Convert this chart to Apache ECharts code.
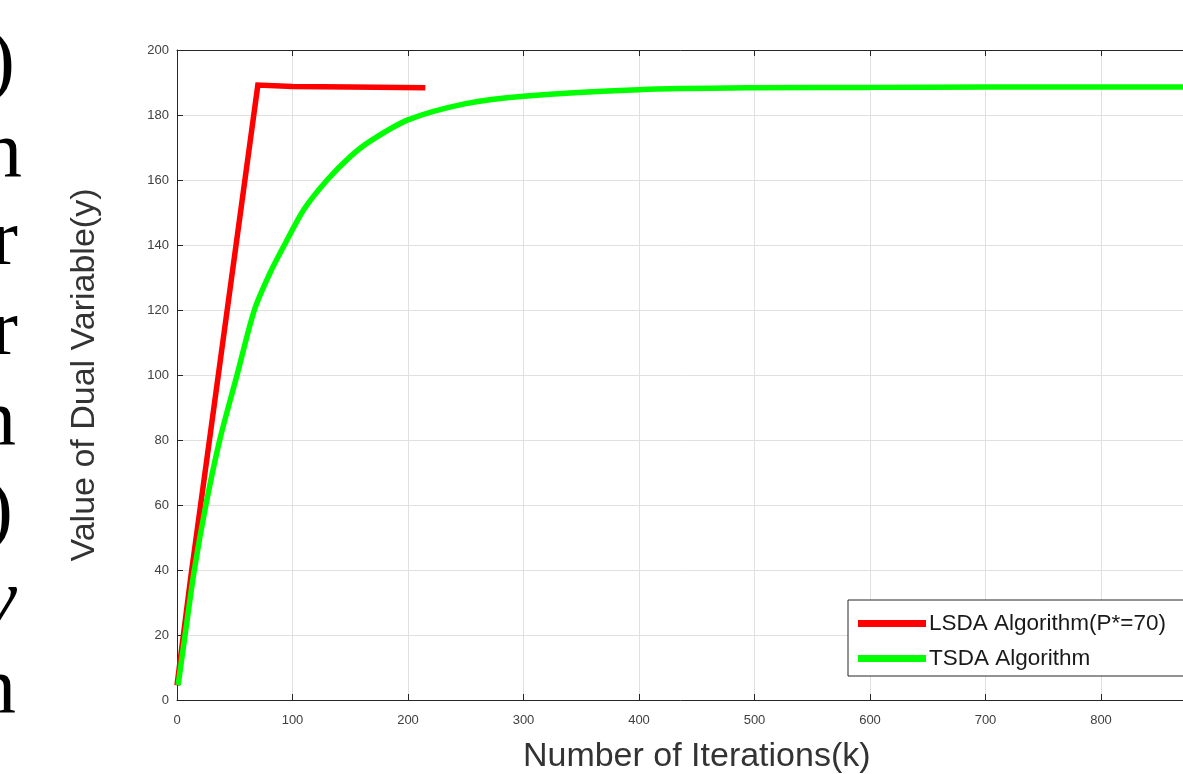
<!DOCTYPE html>
<html>
<head>
<meta charset="utf-8">
<script src="https://cdn.jsdelivr.net/npm/echarts@6/dist/echarts.min.js"></script>
<style>html,body{margin:0;padding:0;background:#fff}#c{width:1183px;height:774px}</style>
</head>
<body>
<div id="c"></div>
<script>
// ---- data ----
const lsdaK = [0, 12, 70, 100, 150, 215];
const lsdaY = [4.5, 38, 189.2, 188.8, 188.6, 188.4];
const tsdaK = [1, 7, 15, 25, 37, 52, 67, 80, 93, 110, 130, 150, 167, 200, 250, 300, 400, 500, 600, 700, 800, 900];
const tsdaY = [4.6, 20, 40, 60, 80, 100, 120, 131, 140, 151, 160, 167.2, 171.9, 178.5, 183.5, 185.8, 187.8, 188.4, 188.5, 188.6, 188.6, 188.6];
const seriesNames = ['LSDA Algorithm(P*=70)', 'TSDA Algorithm'];
const xTicks = [0, 100, 200, 300, 400, 500, 600, 700, 800, 900];
const yTicks = [0, 20, 40, 60, 80, 100, 120, 140, 160, 180, 200];
const sideGlyphs = [')', 'n', 'r', 'r', 'n', ')', 'v', 'n'];

const chart = echarts.init(document.getElementById('c'), null, {renderer: 'canvas'});
const axisCol = '#262626';
const labelCol = '#404040';
const gridCol = '#e0e0e0';

const glyphRight = [15, 22, 18, 18, 16, 13, 17, 16];
const glyphItalic = [false, false, false, false, false, false, true, false];
const glyphBase = [92, 182, 270, 360, 450, 541, 630, 718];
const graphics = sideGlyphs.map((g, i) => ({
  type: 'text',
  x: glyphRight[i],
  y: glyphBase[i] - 27,
  style: {
    text: g,
    font: (glyphItalic[i] ? 'italic ' : '') + '80px "Liberation Serif"',
    fill: '#000',
    align: 'right',
    verticalAlign: 'middle'
  }
}));

chart.setOption({
  animation: false,
  backgroundColor: '#fff',
  textStyle: {fontFamily: 'Liberation Sans'},
  grid: {left: 177, top: 50, width: 1039.5, height: 650, containLabel: false, outerBoundsMode: 'none'},
  graphic: graphics,
  legend: {
    left: 848,
    top: 600,
    orient: 'vertical',
    backgroundColor: '#fff',
    borderColor: axisCol,
    borderWidth: 1,
    borderRadius: 0,
    padding: [12, 60, 6, 10],
    itemGap: 12,
    itemWidth: 68,
    itemHeight: 7,
    icon: 'rect',
    data: seriesNames,
    textStyle: {fontSize: 22.5, lineHeight: 22, color: '#1a1a1a', fontFamily: 'Liberation Sans', padding: [0, 0, 0, -2]}
  },
  xAxis: [{
    type: 'value',
    min: xTicks[0],
    max: xTicks[xTicks.length - 1],
    interval: 100,
    name: 'Number of Iterations(k)',
    nameLocation: 'middle',
    nameGap: 40,
    nameTextStyle: {fontSize: 34, color: '#333'},
    axisLine: {show: true, lineStyle: {color: axisCol, width: 1}},
    axisTick: {show: true, inside: true, length: 6, lineStyle: {color: axisCol}},
    axisLabel: {fontSize: 13, color: labelCol, margin: 14},
    splitLine: {show: true, lineStyle: {color: gridCol, width: 1}}
  }, {
    type: 'value',
    position: 'top',
    min: xTicks[0],
    max: xTicks[xTicks.length - 1],
    interval: 100,
    axisLine: {show: true, onZero: false, lineStyle: {color: axisCol, width: 1}},
    axisTick: {show: true, inside: true, length: 6, lineStyle: {color: axisCol}},
    axisLabel: {show: false},
    splitLine: {show: false}
  }],
  yAxis: {
    type: 'value',
    min: yTicks[0],
    max: yTicks[yTicks.length - 1],
    interval: 20,
    name: 'Value of Dual Variable(y)',
    nameLocation: 'middle',
    nameGap: 75,
    nameTextStyle: {fontSize: 34, color: '#333'},
    axisLine: {show: true, lineStyle: {color: axisCol, width: 1}},
    axisTick: {show: true, inside: true, length: 6, lineStyle: {color: axisCol}},
    axisLabel: {fontSize: 13, color: labelCol, margin: 8},
    splitLine: {show: true, lineStyle: {color: gridCol, width: 1}}
  },
  series: [{
    name: seriesNames[0],
    type: 'line',
    showSymbol: false,
    data: lsdaK.map((k, i) => [k, lsdaY[i]]),
    lineStyle: {color: '#ff0000', width: 5.5, join: 'miter'},
    itemStyle: {color: '#ff0000'},
    z: 3
  }, {
    name: seriesNames[1],
    type: 'line',
    showSymbol: false,
    smooth: 0.3,
    data: tsdaK.map((k, i) => [k, tsdaY[i]]),
    lineStyle: {color: '#00ff00', width: 5.5},
    itemStyle: {color: '#00ff00'},
    z: 4
  }]
});
</script>
</body>
</html>
